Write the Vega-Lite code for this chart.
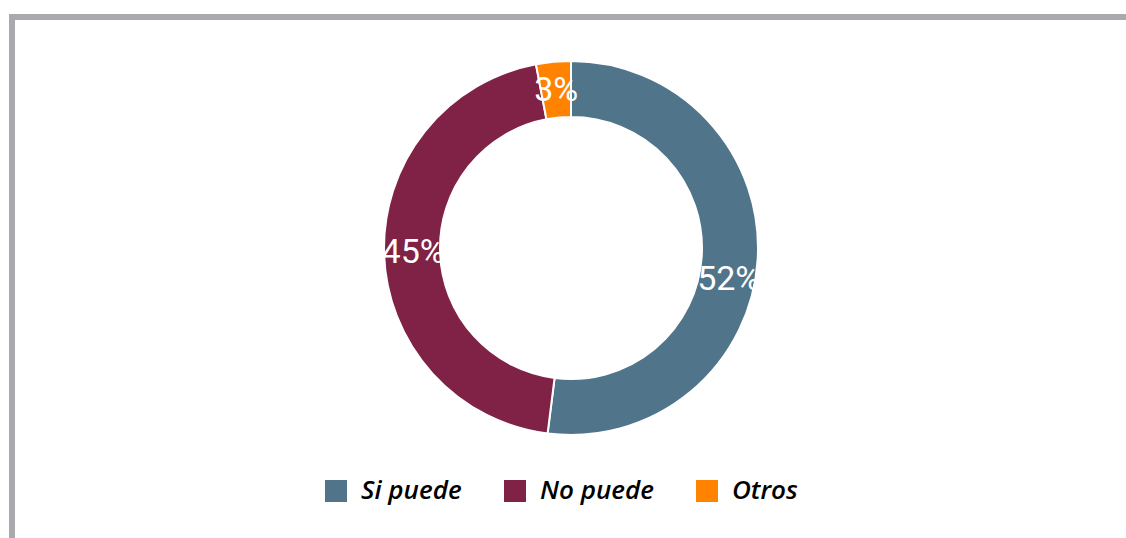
{
  "$schema": "https://vega.github.io/schema/vega-lite/v6.json",
  "width": 1114,
  "height": 521,
  "autosize": {"type": "none"},
  "padding": {"left": 12, "top": 17, "right": 0, "bottom": 0},
  "background": "white",
  "config": {
    "view": {"stroke": "#a9aaae", "strokeWidth": 6, "strokeDash": [1114, 1635, 530], "strokeCap": "square"}
  },
  "data": {
    "values": [
      {"categoria": "Si puede", "valor": 0.52, "orden": 1},
      {"categoria": "No puede", "valor": 0.45, "orden": 2},
      {"categoria": "Otros", "valor": 0.03, "orden": 3}
    ]
  },
  "encoding": {
    "theta": {"field": "valor", "type": "quantitative", "stack": true},
    "order": {"field": "orden", "type": "quantitative"},
    "x": {"datum": "centro", "type": "nominal", "scale": {"type": "point", "align": 0.5018}, "axis": null},
    "y": {"datum": "centro", "type": "nominal", "scale": {"type": "point", "align": 0.4434}, "axis": null}
  },
  "layer": [
    {
      "mark": {"type": "arc", "innerRadius": 131, "outerRadius": 187, "stroke": "white", "strokeWidth": 2},
      "encoding": {
        "color": {
          "field": "categoria",
          "type": "nominal",
          "scale": {"domain": ["Si puede", "No puede", "Otros"], "range": ["#50758b", "#7f2245", "#ff8300"]},
          "legend": {
            "orient": "none",
            "direction": "horizontal",
            "legendX": 311,
            "legendY": 461,
            "title": null,
            "padding": 0,
            "symbolType": "square",
            "symbolSize": 484,
            "symbolStrokeWidth": 0,
            "symbolOpacity": 1,
            "labelFont": "Open Sans",
            "labelFontSize": 26,
            "labelFontStyle": "italic",
            "labelFontWeight": 600,
            "labelColor": "#000000",
            "labelOffset": 12,
            "columnPadding": 40,
            "labelLimit": 300
          }
        }
      }
    },
    {
      "mark": {"type": "text", "radius": 158, "font": "Liberation Sans Narrow, Roboto", "fontSize": 34, "color": "white"},
      "encoding": {
        "text": {"condition": {"test": "datum.categoria === 'Si puede'", "value": ""}, "field": "valor", "type": "quantitative", "format": ".0%"}
      }
    },
    {
      "mark": {"type": "text", "radius": 158, "dy": 22, "font": "Liberation Sans Narrow, Roboto", "fontSize": 34, "color": "white"},
      "encoding": {
        "text": {"condition": {"test": "datum.categoria !== 'Si puede'", "value": ""}, "field": "valor", "type": "quantitative", "format": ".0%"}
      }
    }
  ]
}
